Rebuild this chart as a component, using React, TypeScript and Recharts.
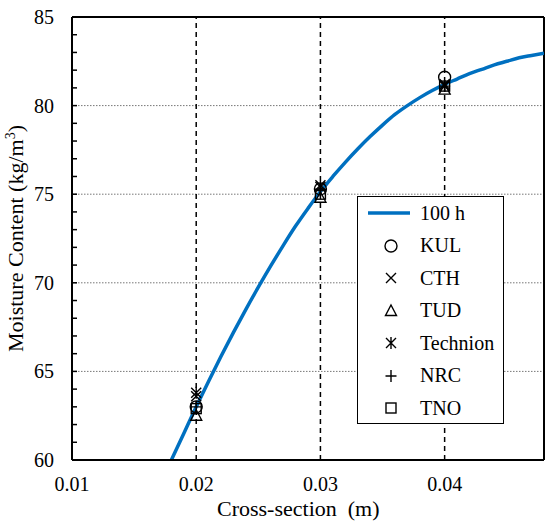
import React from 'react';
import { ComposedChart, Line, Scatter, XAxis, YAxis, ReferenceLine, Legend } from 'recharts';

// fitted curve at 100 h
const curveX = [
  0.018, 0.019, 0.02, 0.021, 0.022, 0.023, 0.024, 0.025, 0.026, 0.027, 0.028, 0.029, 0.03, 0.031,
  0.032, 0.033, 0.034, 0.035, 0.036, 0.037, 0.038, 0.039, 0.04, 0.041, 0.042, 0.043, 0.044, 0.045,
  0.046, 0.047, 0.048,
];
const curveY = [
  60.0, 61.5, 63.0, 64.45, 65.85, 67.2, 68.5, 69.75, 70.95, 72.1, 73.2, 74.2, 75.15, 76.0,
  76.8, 77.55, 78.25, 78.9, 79.5, 80.0, 80.45, 80.85, 81.2, 81.5, 81.8, 82.05, 82.3, 82.5,
  82.7, 82.83, 82.95,
];

// measured points per lab
const sampleX = [0.02, 0.03, 0.04];
const kulY = [63.0, 75.3, 81.6];
const cthY = [63.6, 75.5, 81.2];
const tudY = [62.5, 74.8, 80.9];
const technionY = [63.8, 75.4, 81.1];
const nrcY = [63.0, 75.2, 81.1];
const tnoY = [62.9, 75.0, 81.1];

const xTicks = [0.01, 0.02, 0.03, 0.04];
const yLabelTicks = [60, 65, 70, 75, 80, 85];
const yMinorTicks = [
  60, 61, 62, 63, 64, 65, 66, 67, 68, 69, 70, 71, 72, 73, 74, 75, 76, 77, 78, 79, 80, 81, 82, 83, 84, 85,
];
const hGrid = [65, 70, 75, 80];
const vGrid = [0.02, 0.03, 0.04];

const FONT = '"Liberation Serif", "Times New Roman", serif';
const BLUE = '#0070C0';

const toPoints = (xs: number[], ys: number[]) => xs.map((x, i) => ({ x, y: ys[i] }));

const mk = { fill: 'none', stroke: '#000', strokeWidth: 1.4 };

const circleShape = ({ cx, cy }: any) => <circle cx={cx} cy={cy} r={6} {...mk} />;
const crossShape = ({ cx, cy }: any) => (
  <path d={`M${cx - 5} ${cy - 5}L${cx + 5} ${cy + 5}M${cx + 5} ${cy - 5}L${cx - 5} ${cy + 5}`} {...mk} />
);
const triangleShape = ({ cx, cy }: any) => (
  <path d={`M${cx} ${cy - 6}L${cx + 5.5} ${cy + 4.5}L${cx - 5.5} ${cy + 4.5}Z`} {...mk} />
);
const asteriskShape = ({ cx, cy }: any) => (
  <path
    d={`M${cx - 5} ${cy - 5}L${cx + 5} ${cy + 5}M${cx + 5} ${cy - 5}L${cx - 5} ${cy + 5}M${cx} ${cy - 6}L${cx} ${cy + 6}`}
    {...mk}
  />
);
const plusShape = ({ cx, cy }: any) => (
  <path d={`M${cx - 5.5} ${cy}L${cx + 5.5} ${cy}M${cx} ${cy - 6}L${cx} ${cy + 6}`} {...mk} />
);
const squareShape = ({ cx, cy }: any) => <rect x={cx - 5} y={cy - 5} width={10} height={10} {...mk} />;

const labs = [
  { name: 'KUL', ys: kulY, shape: circleShape },
  { name: 'CTH', ys: cthY, shape: crossShape },
  { name: 'TUD', ys: tudY, shape: triangleShape },
  { name: 'Technion', ys: technionY, shape: asteriskShape },
  { name: 'NRC', ys: nrcY, shape: plusShape },
  { name: 'TNO', ys: tnoY, shape: squareShape },
];

function YTick({ x, y, payload }: any) {
  const v = payload.value;
  return (
    <g>
      {v > 60 && v < 85 && <line x1={x} x2={x + 5} y1={y} y2={y} stroke="#000" strokeWidth={1.5} />}
      {yLabelTicks.includes(v) && (
        <text x={x - 18} y={y} dy="0.35em" textAnchor="end" fontFamily={FONT} fontSize={20} fill="#000">
          {v}
        </text>
      )}
    </g>
  );
}

function XTick({ x, y, payload }: any) {
  return (
    <text x={x} y={y + 31} textAnchor="middle" fontFamily={FONT} fontSize={20} fill="#000">
      {payload.value}
    </text>
  );
}

function LegendBox() {
  const row = { display: 'flex', alignItems: 'center', height: 32.5 } as const;
  const text = { fontFamily: FONT, fontSize: 20, color: '#000', marginLeft: 8 };
  return (
    <div>
      <div style={row}>
        <svg width={54} height={20}>
          <line x1={10} x2={52} y1={10} y2={10} stroke={BLUE} strokeWidth={3.5} />
        </svg>
        <span style={text}>100 h</span>
      </div>
      {labs.map((l) => (
        <div key={l.name} style={row}>
          <svg width={54} height={20}>
            {l.shape({ cx: 33, cy: 10 })}
          </svg>
          <span style={text}>{l.name}</span>
        </div>
      ))}
    </div>
  );
}

export default function App() {
  return (
    <div style={{ position: 'absolute', left: 0, top: 0, width: 550, height: 527, background: '#fff', fontFamily: FONT }}>
      <ComposedChart width={550} height={527} margin={{ top: 17, right: 6, left: 22, bottom: 27 }}>
        <XAxis
          type="number"
          dataKey="x"
          domain={[0.01, 0.048]}
          ticks={xTicks}
          allowDataOverflow
          height={40}
          tickSize={0}
          tickMargin={0}
          tick={<XTick />}
          axisLine={{ stroke: '#000', strokeWidth: 2 }}
          label={{
            value: 'Cross-section  (m)',
            content: () => (
              <text x={217} y={516} textAnchor="start" fontFamily={FONT} fontSize={22} fill="#000" style={{ whiteSpace: 'pre' }}>
                Cross-section  (m)
              </text>
            ),
          }}
        />
        <YAxis
          type="number"
          dataKey="y"
          domain={[60, 85]}
          ticks={yMinorTicks}
          interval={0}
          allowDataOverflow
          width={50}
          tickSize={0}
          tickMargin={0}
          tick={<YTick />}
          axisLine={{ stroke: '#000', strokeWidth: 2 }}
          label={{
            value: 'Moisture Content',
            content: () => (
              <text
                x={23}
                y={238.5}
                transform="rotate(-90 23 238.5)"
                textAnchor="middle"
                fontFamily={FONT}
                fontSize={22}
                fill="#000"
              >
                Moisture Content (kg/m<tspan dy={-8} fontSize={14}>3</tspan>
                <tspan dy={8}>)</tspan>
              </text>
            ),
          }}
        />
        {hGrid.map((v) => (
          <ReferenceLine key={`h${v}`} y={v} stroke="#777" strokeWidth={1} strokeDasharray="1.5 1.5" />
        ))}
        {vGrid.map((v) => (
          <ReferenceLine key={`v${v}`} x={v} stroke="#000" strokeWidth={1.5} strokeDasharray="5 4" />
        ))}
        <ReferenceLine y={85} stroke="#000" strokeWidth={2} />
        <ReferenceLine x={0.048} stroke="#000" strokeWidth={2} />
        <Line
          data={toPoints(curveX, curveY)}
          dataKey="y"
          type="monotone"
          stroke={BLUE}
          strokeWidth={3.5}
          dot={false}
          name="100 h"
          isAnimationActive={false}
        />
        {labs.map((l) => (
          <Scatter
            key={l.name}
            name={l.name}
            data={toPoints(sampleX, l.ys)}
            dataKey="y"
            shape={l.shape}
            isAnimationActive={false}
          />
        ))}
        <Legend
          layout="vertical"
          align="center"
          verticalAlign="middle"
          content={() => <LegendBox />}
          wrapperStyle={{
            left: 357,
            top: 196,
            width: 147,
            height: 228,
            border: '1.5px solid #000',
            background: '#fff',
            boxSizing: 'border-box',
          }}
        />
      </ComposedChart>
    </div>
  );
}
